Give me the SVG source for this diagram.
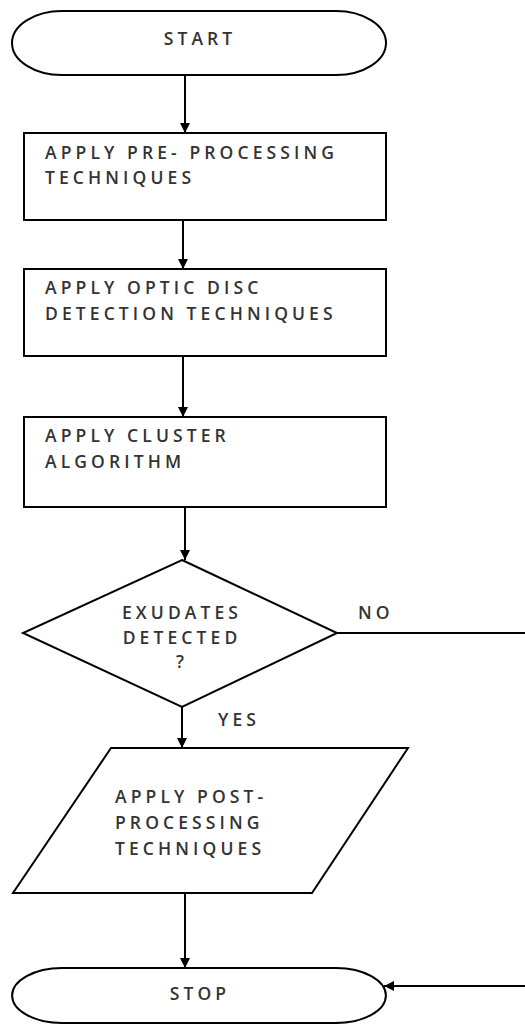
<svg xmlns="http://www.w3.org/2000/svg" width="525" height="1025" viewBox="0 0 525 1025">
<style>
.s{fill:#fff;stroke:#000;stroke-width:2}
.c{fill:none;stroke:#000;stroke-width:2}
text{font-family:"Open Sans","Liberation Sans",Arial,sans-serif;font-size:17.5px;font-weight:600;fill:#333;letter-spacing:4.1px}
.m{text-anchor:middle}
</style>
<defs>
<marker id="a" viewBox="0 0 10 10" refX="10" refY="5" markerWidth="10" markerHeight="10" markerUnits="userSpaceOnUse" orient="auto">
<path d="M0,0 L10,5 L0,10 Z" fill="#000"/>
</marker>
</defs>
<rect width="525" height="1025" fill="#fff"/>
<g id="start">
<path class="s" d="M62 11 H336 A50 32 0 0 1 336 75 H62 A50 32 0 0 1 62 11 Z"/>
<text class="m" x="200" y="45">START</text>
</g>
<g id="preprocess">
<rect class="s" x="24" y="133" width="362" height="87"/>
<text x="45" y="159">APPLY PRE- PROCESSING</text>
<text x="45" y="184">TECHNIQUES</text>
</g>
<g id="opticdisc">
<rect class="s" x="24" y="269" width="362" height="87"/>
<text x="45" y="294">APPLY OPTIC DISC</text>
<text x="45" y="320">DETECTION TECHNIQUES</text>
</g>
<g id="cluster">
<rect class="s" x="24" y="417" width="362" height="90"/>
<text x="45" y="442">APPLY CLUSTER</text>
<text x="45" y="468">ALGORITHM</text>
</g>
<g id="decision">
<path class="s" d="M182 560 L337 633 L182 707 L23 633 Z"/>
<text class="m" x="182" y="619">EXUDATES</text>
<text class="m" x="182" y="644">DETECTED</text>
<text class="m" x="182" y="668">?</text>
</g>
<g id="postprocess">
<path class="s" d="M111 748 H408 L312 893 H13 Z"/>
<text x="115" y="803">APPLY POST-</text>
<text x="115" y="829">PROCESSING</text>
<text x="115" y="855">TECHNIQUES</text>
</g>
<g id="stop">
<path class="s" d="M62 968 H336 A50 27.5 0 0 1 336 1023 H62 A50 27.5 0 0 1 62 968 Z"/>
<text class="m" x="200" y="1000">STOP</text>
</g>
<g id="connectors">
<line class="c" x1="185" y1="75" x2="185" y2="133" marker-end="url(#a)"/>
<line class="c" x1="183" y1="220" x2="183" y2="269" marker-end="url(#a)"/>
<line class="c" x1="183" y1="356" x2="183" y2="417" marker-end="url(#a)"/>
<line class="c" x1="185" y1="507" x2="185" y2="560" marker-end="url(#a)" stroke-width="3"/>
<line class="c" x1="182" y1="707" x2="182" y2="748" marker-end="url(#a)" stroke-width="3"/>
<line class="c" x1="185" y1="893" x2="185" y2="968" marker-end="url(#a)" stroke-width="3"/>
<line class="c" x1="337" y1="633" x2="525" y2="633" stroke-width="1.5"/>
<line class="c" x1="525" y1="986" x2="384" y2="986" marker-end="url(#a)" stroke-width="1.5"/>
<text x="358" y="619">NO</text>
<text x="218" y="726">YES</text>
</g>
</svg>
